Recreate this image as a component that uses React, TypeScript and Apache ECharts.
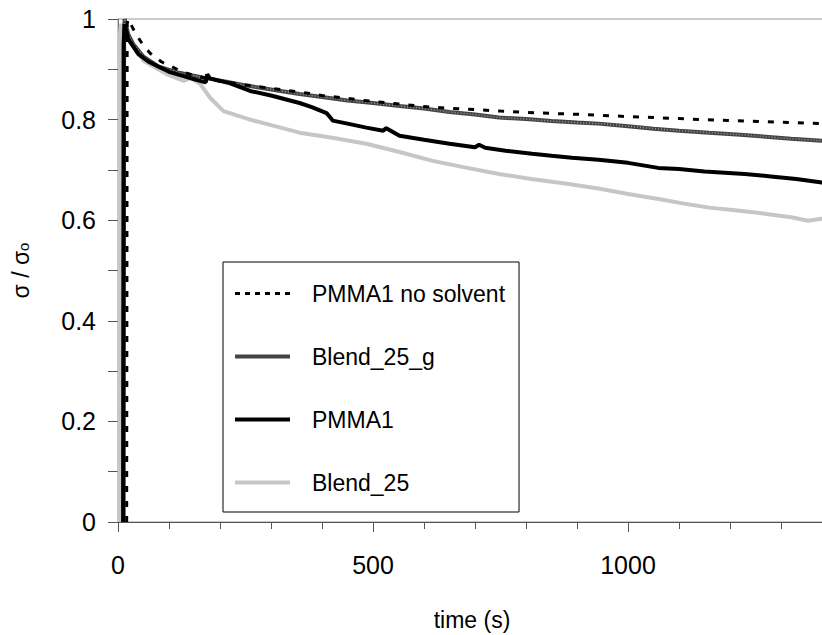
import React, { useEffect, useRef } from "react";
import * as echarts from "echarts";

const seriesNames = ["PMMA1 no solvent", "Blend_25_g", "PMMA1", "Blend_25"];
const xAxisTitle = "time (s)";

const noSolventT = [17, 18, 20, 34, 48, 63, 85, 106, 126, 151, 200, 250, 300, 356, 400, 450, 500, 552, 610, 680, 750, 830, 917, 1000, 1100, 1200, 1290, 1380, 1420];
const noSolventY = [0, 0.99, 1.0, 0.972, 0.95, 0.932, 0.915, 0.905, 0.895, 0.887, 0.876, 0.869, 0.862, 0.855, 0.848, 0.842, 0.836, 0.831, 0.825, 0.821, 0.817, 0.813, 0.81, 0.806, 0.802, 0.798, 0.795, 0.792, 0.791];

const blendGT = [11, 12, 13, 20, 30, 50, 80, 120, 175, 210, 250, 300, 356, 400, 450, 500, 552, 600, 650, 700, 747, 800, 850, 900, 942, 1000, 1050, 1100, 1159, 1220, 1270, 1320, 1380, 1420];
const blendGY = [0, 0.97, 1.0, 0.97, 0.95, 0.925, 0.905, 0.893, 0.882, 0.876, 0.868, 0.86, 0.851, 0.845, 0.838, 0.833, 0.827, 0.822, 0.815, 0.81, 0.804, 0.801, 0.797, 0.794, 0.792, 0.787, 0.782, 0.778, 0.774, 0.77, 0.766, 0.762, 0.758, 0.756];

const pmmaT = [10, 11, 13, 20, 40, 60, 100, 150, 172, 175, 180, 220, 259, 300, 356, 380, 409, 421, 450, 487, 520, 526, 552, 600, 650, 700, 708, 720, 760, 812, 850, 890, 942, 1000, 1059, 1100, 1150, 1229, 1280, 1330, 1380, 1420];
const pmmaY = [0, 0.95, 0.99, 0.96, 0.93, 0.915, 0.895, 0.88, 0.874, 0.89, 0.882, 0.872, 0.857, 0.848, 0.833, 0.825, 0.813, 0.798, 0.792, 0.784, 0.778, 0.783, 0.768, 0.76, 0.752, 0.745, 0.75, 0.744, 0.738, 0.732, 0.728, 0.724, 0.72, 0.714, 0.704, 0.702, 0.697, 0.692, 0.687, 0.682, 0.675, 0.673];

const blendT = [3, 4, 6, 10, 24, 50, 96, 129, 142, 161, 181, 207, 259, 304, 356, 420, 487, 550, 617, 680, 747, 810, 877, 942, 1000, 1060, 1110, 1159, 1210, 1268, 1320, 1353, 1380, 1420];
const blendY = [0, 0.97, 0.99, 0.98, 0.956, 0.917, 0.89, 0.877, 0.883, 0.871, 0.843, 0.817, 0.8, 0.788, 0.774, 0.764, 0.752, 0.736, 0.718, 0.705, 0.692, 0.682, 0.673, 0.663, 0.652, 0.642, 0.633, 0.625, 0.62, 0.613, 0.606, 0.599, 0.603, 0.601];

const xTickLabels = [0, 500, 1000];

const zip = (t: number[], y: number[]) => t.map((v, i) => [v, y[i]]);

const FONT = "Liberation Sans, Arial, sans-serif";

export default function App() {
  const ref = useRef<HTMLDivElement>(null);
  useEffect(() => {
    if (!ref.current) return;
    const chart = echarts.init(ref.current, undefined, { renderer: "svg" });
    chart.setOption({
      animation: false,
      backgroundColor: "#ffffff",
      grid: {
        left: 118,
        top: 19,
        width: 765,
        bottom: 113,
        outerBoundsMode: "none",
        containLabel: false,
        show: true,
        borderColor: "#999",
        borderWidth: 1,
      },
      graphic: [
        {
          type: "text",
          x: 472,
          y: 620,
          style: {
            text: xAxisTitle,
            fontFamily: FONT,
            fontSize: 23,
            fill: "#000",
            textAlign: "center",
            textVerticalAlign: "middle",
          },
        },
      ],
      legend: {
        data: [
          { name: seriesNames[0], lineStyle: { color: "#000", width: 3, type: [5, 5] } },
          { name: seriesNames[1], lineStyle: { color: "#444", width: 4 } },
          { name: seriesNames[2], lineStyle: { color: "#000", width: 4 } },
          { name: seriesNames[3], lineStyle: { color: "#c6c6c6", width: 4 } },
        ],
        orient: "vertical",
        left: 223,
        top: 262,
        backgroundColor: "#fff",
        borderColor: "#000",
        borderWidth: 1,
        padding: [20, 14, 18, 10],
        itemWidth: 55,
        itemHeight: 20,
        itemGap: 40,
        itemStyle: { opacity: 0 },
        textStyle: {
          fontFamily: FONT,
          fontSize: 23,
          color: "#000",
          lineHeight: 20,
          padding: [0, 0, 0, 17],
        },
      },
      xAxis: {
        type: "value",
        min: 0,
        max: 1500,
        interval: 500,
        axisLine: { show: true, lineStyle: { color: "#555", width: 1 } },
        axisTick: { show: true, length: 10, lineStyle: { color: "#555" } },
        minorTick: { show: true, splitNumber: 5, length: 7, lineStyle: { color: "#555" } },
        splitLine: { show: false },
        axisLabel: {
          fontFamily: FONT,
          fontSize: 25,
          color: "#000",
          margin: 30,
          showMaxLabel: false,
          formatter: (v: number) => (xTickLabels.includes(v) ? String(v) : ""),
        },
      },
      yAxis: {
        type: "value",
        min: 0,
        max: 1,
        interval: 0.2,
        name: "{a|σ / σ}{b|o}",
        nameLocation: "middle",
        nameRotate: 90,
        nameGap: 86,
        nameTextStyle: {
          rich: {
            a: { fontFamily: FONT, fontSize: 23, color: "#000" },
            b: { fontFamily: FONT, fontSize: 15, color: "#000", padding: [6, 0, 0, 0] },
          },
        },
        axisLine: { show: true, lineStyle: { color: "#777", width: 1 } },
        axisTick: { show: true, length: 10, lineStyle: { color: "#555" } },
        minorTick: { show: true, splitNumber: 2, length: 10, lineStyle: { color: "#555" } },
        splitLine: { show: false },
        axisLabel: { fontFamily: FONT, fontSize: 25, color: "#000", margin: 22 },
      },
      series: [
        {
          name: "Blend_25",
          type: "line",
          data: zip(blendT, blendY),
          showSymbol: false,
          symbol: "none",
          z: 2,
          lineStyle: { color: "#c6c6c6", width: 4 },
          itemStyle: { color: "#c6c6c6" },
        },
        {
          name: "Blend_25_g",
          type: "line",
          data: zip(blendGT, blendGY),
          showSymbol: false,
          symbol: "none",
          z: 3,
          lineStyle: { color: "#444", width: 4 },
          itemStyle: { color: "#444" },
        },
        {
          name: "Blend_25_g texture",
          type: "line",
          data: zip(blendGT, blendGY),
          showSymbol: false,
          symbol: "none",
          z: 3,
          silent: true,
          lineStyle: { color: "#9a9a9a", width: 1.5, type: [1, 2] },
        },
        {
          name: "PMMA1",
          type: "line",
          data: zip(pmmaT, pmmaY),
          showSymbol: false,
          symbol: "none",
          z: 4,
          lineStyle: { color: "#000", width: 4 },
          itemStyle: { color: "#000" },
        },
        {
          name: "PMMA1 no solvent",
          type: "line",
          data: zip(noSolventT, noSolventY),
          showSymbol: false,
          symbol: "none",
          z: 5,
          lineStyle: { color: "#000", width: 3, type: [6, 9] },
          itemStyle: { color: "#000" },
        },
      ],
    });
    return () => chart.dispose();
  }, []);
  return (
    <div
      ref={ref}
      style={{ position: "fixed", left: 0, top: 0, width: 822, height: 635, background: "#fff" }}
    />
  );
}
